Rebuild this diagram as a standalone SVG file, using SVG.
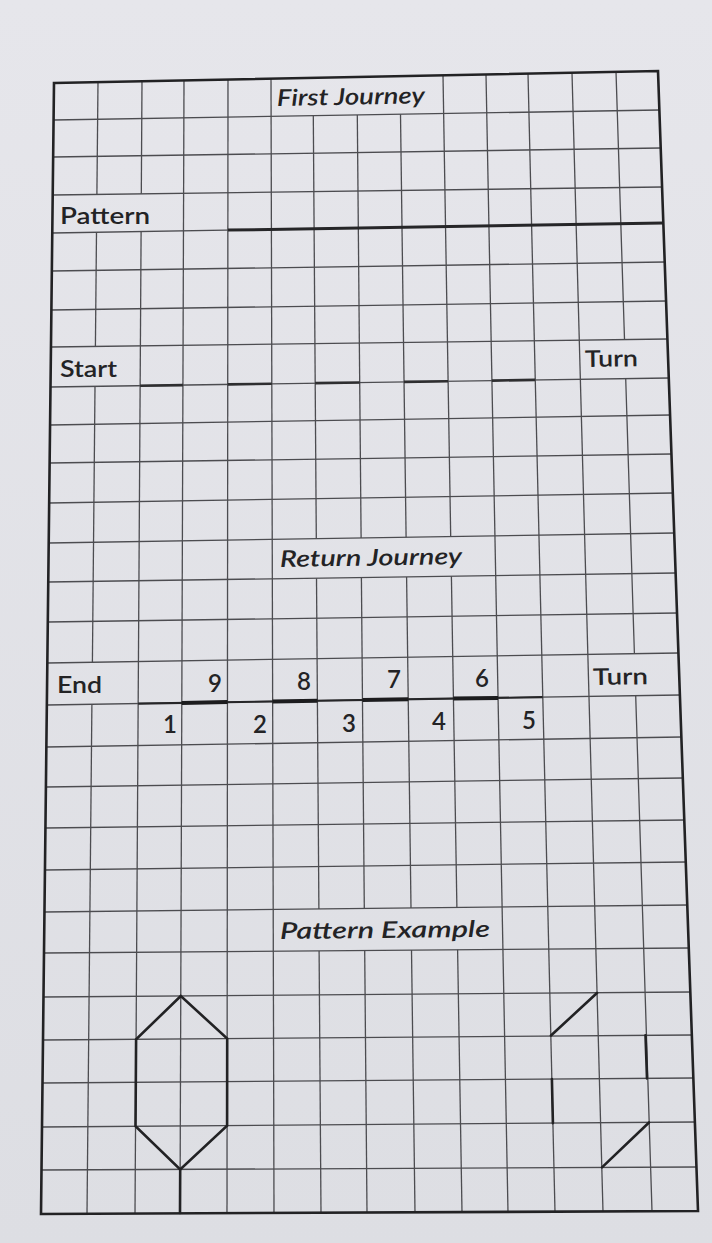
<svg xmlns="http://www.w3.org/2000/svg" width="712" height="1243" viewBox="0 0 712 1243">
  <defs>
    <linearGradient id="paper" x1="0" y1="0" x2="0" y2="1">
      <stop offset="0" stop-color="#e6e6eb"/>
      <stop offset="1" stop-color="#dddee3"/>
    </linearGradient>
    <style>
      .g { stroke: #4c4c50; stroke-width: 1.3; fill: none; stroke-linecap: butt; }
      .border { stroke: #222224; stroke-width: 2.6; fill: none; stroke-linejoin: miter; }
      .thick { stroke: #262628; stroke-width: 3; fill: none; }
      .dash { stroke: #2e2e30; stroke-width: 2.6; fill: none; }
      .mid { stroke: #262628; stroke-width: 2.2; fill: none; }
      .heavy { stroke: #1c1c1e; stroke-width: 4; fill: none; }
      .shape { stroke: #222224; stroke-width: 2.6; fill: none; stroke-linejoin: miter; stroke-linecap: round; }
      .lbl { font-family: Lato, "Open Sans", "Liberation Sans", sans-serif; font-size: 23px; font-weight: 600; fill: #232325; }
      .ttl { font-family: Lato, "Open Sans", "Liberation Sans", sans-serif; font-size: 23px; font-weight: 600; font-style: italic; fill: #232325; }
      .num { font-family: Lato, "Open Sans", "Liberation Sans", sans-serif; font-size: 24px; font-weight: 600; fill: #232325; }
    </style>
  </defs>

  <rect x="0" y="0" width="712" height="1243" fill="url(#paper)"/>

  <g id="grid-horizontal">
    <line class="g" x1="53.6" y1="120" x2="659.4" y2="110"/>
    <line class="g" x1="53.2" y1="157" x2="660.7" y2="148"/>
    <line class="g" x1="52.7" y1="195" x2="662.1" y2="187"/>
    <line class="g" x1="52.3" y1="233" x2="663.3" y2="223"/>
    <line class="g" x1="51.8" y1="271" x2="664.7" y2="262"/>
    <line class="g" x1="51.4" y1="310" x2="666.1" y2="301"/>
    <line class="g" x1="51.0" y1="347" x2="667.4" y2="339"/>
    <line class="g" x1="50.5" y1="387" x2="668.8" y2="378"/>
    <line class="g" x1="50.1" y1="425" x2="670.1" y2="415"/>
    <line class="g" x1="49.6" y1="463" x2="671.4" y2="454"/>
    <line class="g" x1="49.2" y1="503" x2="672.8" y2="493"/>
    <line class="g" x1="48.7" y1="543" x2="674.2" y2="533"/>
    <line class="g" x1="48.3" y1="582" x2="675.6" y2="573"/>
    <line class="g" x1="47.8" y1="622" x2="677.0" y2="613"/>
    <line class="g" x1="47.3" y1="663" x2="678.4" y2="653"/>
    <line class="g" x1="46.9" y1="705" x2="679.9" y2="695"/>
    <line class="g" x1="46.4" y1="747" x2="681.4" y2="737"/>
    <line class="g" x1="45.9" y1="787" x2="682.8" y2="778"/>
    <line class="g" x1="45.5" y1="828" x2="684.3" y2="820"/>
    <line class="g" x1="45.0" y1="870" x2="685.8" y2="862"/>
    <line class="g" x1="44.5" y1="912" x2="687.3" y2="905"/>
    <line class="g" x1="44.1" y1="953" x2="688.8" y2="948"/>
    <line class="g" x1="43.6" y1="997" x2="690.3" y2="992"/>
    <line class="g" x1="43.1" y1="1040" x2="691.8" y2="1035"/>
    <line class="g" x1="42.6" y1="1083" x2="693.3" y2="1078"/>
    <line class="g" x1="42.1" y1="1127" x2="694.9" y2="1122"/>
    <line class="g" x1="41.5" y1="1170" x2="696.5" y2="1167"/>
  </g>

  <g id="grid-vertical">
    <line class="g" x1="98" y1="82.1" x2="96.9" y2="194.4"/>
    <line class="g" x1="96.5" y1="232.3" x2="95.4" y2="346.4"/>
    <line class="g" x1="95.0" y1="386.4" x2="92.4" y2="662.3"/>
    <line class="g" x1="91.9" y1="704.3" x2="87" y2="1213.8"/>
    <line class="g" x1="142" y1="81.3" x2="141.3" y2="193.8"/>
    <line class="g" x1="141.1" y1="231.5" x2="135" y2="1213.6"/>
    <line class="g" x1="184" y1="80.4" x2="180" y2="1213.4"/>
    <line class="g" x1="228" y1="79.5" x2="227" y2="1213.2"/>
    <line class="g" x1="271" y1="78.7" x2="274" y2="1212.9"/>
    <line class="g" x1="313.3" y1="115.7" x2="316.3" y2="538.7"/>
    <line class="g" x1="316.5" y1="578.2" x2="318.9" y2="909.0"/>
    <line class="g" x1="319.1" y1="950.9" x2="321" y2="1212.7"/>
    <line class="g" x1="357.3" y1="115.0" x2="361.1" y2="538.0"/>
    <line class="g" x1="361.4" y1="577.5" x2="364.3" y2="908.5"/>
    <line class="g" x1="364.7" y1="950.5" x2="367" y2="1212.5"/>
    <line class="g" x1="400.5" y1="114.3" x2="406.1" y2="537.3"/>
    <line class="g" x1="406.6" y1="576.9" x2="411.0" y2="908.0"/>
    <line class="g" x1="411.5" y1="950.1" x2="415" y2="1212.3"/>
    <line class="g" x1="443" y1="75.3" x2="450.7" y2="536.6"/>
    <line class="g" x1="451.4" y1="576.2" x2="456.9" y2="907.5"/>
    <line class="g" x1="457.6" y1="949.8" x2="462" y2="1212.1"/>
    <line class="g" x1="486" y1="74.4" x2="508" y2="1211.9"/>
    <line class="g" x1="528" y1="73.6" x2="555" y2="1211.7"/>
    <line class="g" x1="572" y1="72.7" x2="603" y2="1211.4"/>
    <line class="g" x1="616" y1="71.8" x2="624.5" y2="339.6"/>
    <line class="g" x1="625.7" y1="378.6" x2="634.4" y2="653.7"/>
    <line class="g" x1="635.7" y1="695.7" x2="652" y2="1211.2"/>
  </g>

  <g id="marks">
    <line class="thick" x1="227.9" y1="230.1" x2="663.3" y2="223"/>
    <line class="dash" x1="140.1" y1="385.7" x2="182.9" y2="385.1"/>
    <line class="dash" x1="227.7" y1="384.4" x2="271.8" y2="383.8"/>
    <line class="dash" x1="315.1" y1="383.1" x2="359.7" y2="382.5"/>
    <line class="dash" x1="404.0" y1="381.9" x2="448.0" y2="381.2"/>
    <line class="dash" x1="491.9" y1="380.6" x2="535.2" y2="379.9"/>
    <line class="mid" x1="138.2" y1="703.6" x2="542.7" y2="697.2"/>
    <line class="heavy" x1="181.8" y1="702.9" x2="227.5" y2="702.1"/>
    <line class="heavy" x1="272.6" y1="701.4" x2="317.4" y2="700.7"/>
    <line class="heavy" x1="362.5" y1="700.0" x2="408.2" y2="699.3"/>
    <line class="heavy" x1="453.4" y1="698.6" x2="498.0" y2="697.9"/>
  </g>

  <g id="pattern-example">
    <polygon class="shape" points="180.8,996 136.1,1039.3 135.5,1126.3 180.2,1169.4 227.1,1125.6 227.2,1038.6"/>
    <line class="shape" x1="180.2" y1="1169.4" x2="180" y2="1213"/>
    <line class="shape" x1="551" y1="1035.5" x2="597" y2="993"/>
    <line class="shape" x1="645.5" y1="1035.3" x2="647" y2="1078.4"/>
    <line class="shape" x1="551.9" y1="1079.1" x2="552.9" y2="1123.1"/>
    <line class="shape" x1="602" y1="1167.4" x2="649" y2="1122.5"/>
  </g>

  <polygon id="border" class="border" points="54,83 658,71 698,1211 41,1214"/>

  <g id="labels">
    <text class="ttl" x="277" y="106" textLength="148" lengthAdjust="spacingAndGlyphs" transform="rotate(-1.1 277 106)">First Journey</text>
    <text class="lbl" x="60" y="224" textLength="90" lengthAdjust="spacingAndGlyphs">Pattern</text>
    <text class="lbl" x="60" y="377" textLength="57" lengthAdjust="spacingAndGlyphs">Start</text>
    <text class="lbl" x="585" y="367" textLength="53" lengthAdjust="spacingAndGlyphs" transform="rotate(-0.9 585 367)">Turn</text>
    <text class="ttl" x="280" y="567" textLength="182" lengthAdjust="spacingAndGlyphs" transform="rotate(-0.9 280 567)">Return Journey</text>
    <text class="lbl" x="57" y="693" textLength="45" lengthAdjust="spacingAndGlyphs" font-size="24">End</text>
    <text class="lbl" x="593" y="685" textLength="55" lengthAdjust="spacingAndGlyphs" transform="rotate(-0.9 593 685)">Turn</text>
    <text class="num" x="208" y="692">9</text>
    <text class="num" x="297" y="690">8</text>
    <text class="num" x="387" y="688">7</text>
    <text class="num" x="475" y="687">6</text>
    <text class="num" x="163" y="733">1</text>
    <text class="num" x="253" y="733">2</text>
    <text class="num" x="342" y="732">3</text>
    <text class="num" x="432" y="730">4</text>
    <text class="num" x="522" y="729">5</text>
    <text class="ttl" x="280" y="939" textLength="210" lengthAdjust="spacingAndGlyphs" font-size="24" transform="rotate(-0.6 280 939)">Pattern Example</text>
  </g>
</svg>
